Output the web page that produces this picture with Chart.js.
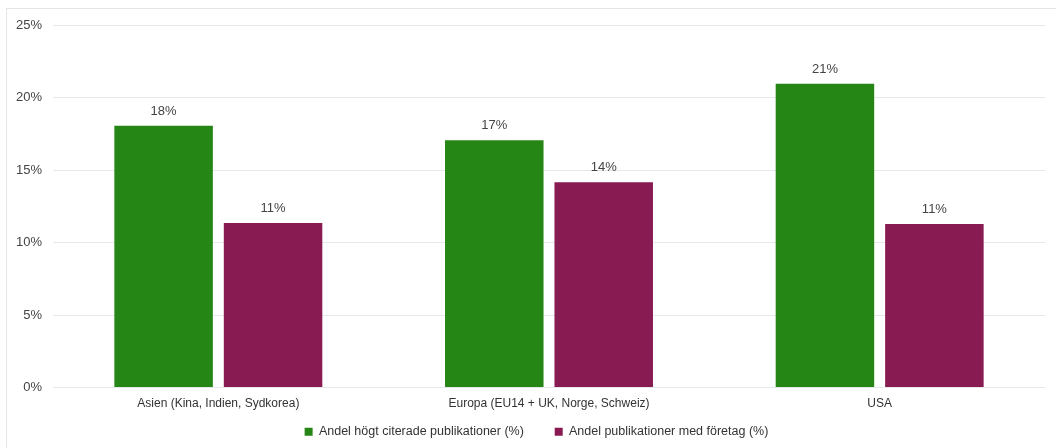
<!DOCTYPE html>
<html><head><meta charset="utf-8">
<script src="https://cdn.jsdelivr.net/npm/chart.js@4/dist/chart.umd.min.js"></script>
<style>
html,body{margin:0;padding:0;background:#fff;}
#wrap{position:relative;width:1056px;height:448px;overflow:hidden;}
#frame{position:absolute;left:6px;top:8px;width:1100px;height:500px;border:1px solid #e3e6e8;box-sizing:border-box;}
canvas{position:absolute;left:0;top:0;}
</style></head>
<body>
<div id="wrap"><div id="frame"></div><canvas id="c" width="1056" height="448"></canvas></div>
<script>
const categories = ["Asien (Kina, Indien, Sydkorea)", "Europa (EU14 + UK, Norge, Schweiz)", "USA"];
const seriesNames = ["Andel högt citerade publikationer (%)", "Andel publikationer med företag (%)"];
const highlyCited = [18.05, 17.06, 20.95];
const withCompanies = [11.35, 14.15, 11.27];
const yTicks = [0, 5, 10, 15, 20, 25];

const FONT = "'Liberation Sans', Arial, sans-serif";

const labelPlugin = {
  id: 'barLabels',
  afterLayout(chart) {
    if (chart.legend) { chart.legend.left += 14; chart.legend.right += 14; }
  },
  afterDatasetsDraw(chart) {
    const ctx = chart.ctx;
    ctx.save();
    ctx.font = "13px " + FONT;
    ctx.fillStyle = '#444';
    ctx.textAlign = 'center';
    ctx.textBaseline = 'bottom';
    chart.data.datasets.forEach((ds, i) => {
      chart.getDatasetMeta(i).data.forEach((el, j) => {
        ctx.fillText(Math.round(ds.data[j]) + '%', el.x, el.y - 8);
      });
    });
    ctx.restore();
  }
};

new Chart(document.getElementById('c'), {
  type: 'bar',
  data: {
    labels: categories,
    datasets: [
      { label: seriesNames[0], data: highlyCited, backgroundColor: '#268615', categoryPercentage: 0.662, barPercentage: 0.9 },
      { label: seriesNames[1], data: withCompanies, backgroundColor: '#871b52', categoryPercentage: 0.662, barPercentage: 0.9 }
    ]
  },
  options: {
    responsive: false,
    animation: false,
    devicePixelRatio: 1,
    layout: { padding: { top: 25, right: 11, bottom: 0, left: 0 } },
    plugins: {
      legend: {
        position: 'bottom',
        labels: {
          boxWidth: 8, boxHeight: 8, padding: 10, color: '#333',
          font: { family: FONT, size: 12.5 },
          generateLabels(chart) {
            const items = Chart.defaults.plugins.legend.labels.generateLabels(chart);
            items.forEach((it, i) => { if (i < items.length - 1) it.text = it.text + '\u00a0\u00a0\u00a0\u00a0\u00a0\u00a0'; });
            return items;
          }
        }
      },
      tooltip: { enabled: false }
    },
    scales: {
      x: {
        grid: { display: false, drawTicks: false },
        border: { display: false },
        ticks: { color: '#333', font: { family: FONT, size: 12 }, padding: 9 },
        afterFit(s) { s.height = 28; }
      },
      y: {
        min: 0, max: 25,
        afterBuildTicks(s) { s.ticks = yTicks.map(v => ({ value: v })); },
        grid: { color: '#e6e9eb', drawTicks: false, lineWidth: 1 },
        border: { display: false },
        ticks: { color: '#444', font: { family: FONT, size: 13 }, padding: 11, callback: v => v + '%' },
        afterFit(s) { s.width = 53; }
      }
    }
  },
  plugins: [labelPlugin]
});
</script>
</body></html>
